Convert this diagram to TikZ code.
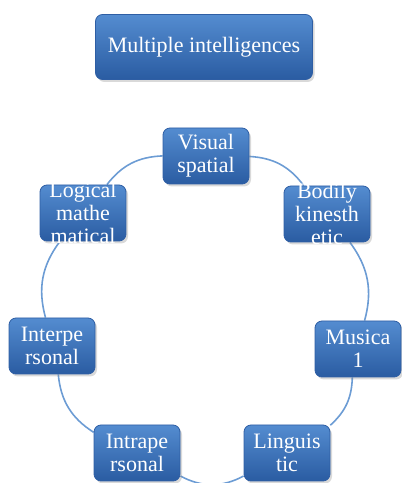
\documentclass[tikz,border=0pt]{standalone}
\usepackage{fontspec}
\setmainfont{Liberation Serif}
\usetikzlibrary{shadows,backgrounds}
\definecolor{boxtop}{RGB}{84,140,208}
\definecolor{boxbot}{RGB}{42,92,162}
\definecolor{boxedge}{RGB}{46,94,164}
\definecolor{ringline}{RGB}{108,156,212}
\newcommand{\celltext}[1]{\parbox[c][38pt][c]{86pt}{\centering #1}}
\tikzset{
  bluebox/.style={rounded corners=7pt,top color=boxtop,bottom color=boxbot,
    draw=boxedge,line width=.8pt,text=white,font=\fontsize{22}{23}\selectfont,
    drop shadow={opacity=.3,shadow xshift=2pt,shadow yshift=-2.5pt}},
  cellbox/.style={bluebox,minimum width=85pt,minimum height=56pt,inner sep=0pt},
  ring/.style={ringline,line width=1.6pt}
}
\begin{document}
\begin{tikzpicture}[x=1pt,y=1pt]
\useasboundingbox (0,0) rectangle (402,483);
\node[bluebox,minimum width=217pt,minimum height=65pt] (title) at (204,436) {Multiple intelligences};
% the seven cells round the ring
\node[cellbox] (visual) at (206,327) {\celltext{Visual\\spatial}};
\node[cellbox] (bodily) at (327,269) {\celltext{Bodily\\kinesth\\etic}};
\node[cellbox] (musical) at (358,134) {\celltext{Musica\\1}};
\node[cellbox] (linguistic) at (287,30) {\celltext{Linguis\\tic}};
\node[cellbox] (intra) at (137,30) {\celltext{Intrape\\rsonal}};
\node[cellbox] (inter) at (52,137) {\celltext{Interpe\\rsonal}};
\node[cellbox] (logical) at (83,270) {\celltext{Logical\\mathe\\matical}};
% ring arcs, clockwise
\begin{scope}[on background layer]
\draw[ring] (visual) to[bend left=25] (bodily);
\draw[ring] (bodily) to[bend left=26] (musical);
\draw[ring] (musical) to[bend left=23] (linguistic);
\draw[ring] (linguistic) to[bend left=28] (intra);
\draw[ring] (intra) to[bend left=26] (inter);
\draw[ring] (inter) to[bend left=26] (logical);
\draw[ring] (logical) to[bend left=25] (visual);
\end{scope}
\end{tikzpicture}
\end{document}
